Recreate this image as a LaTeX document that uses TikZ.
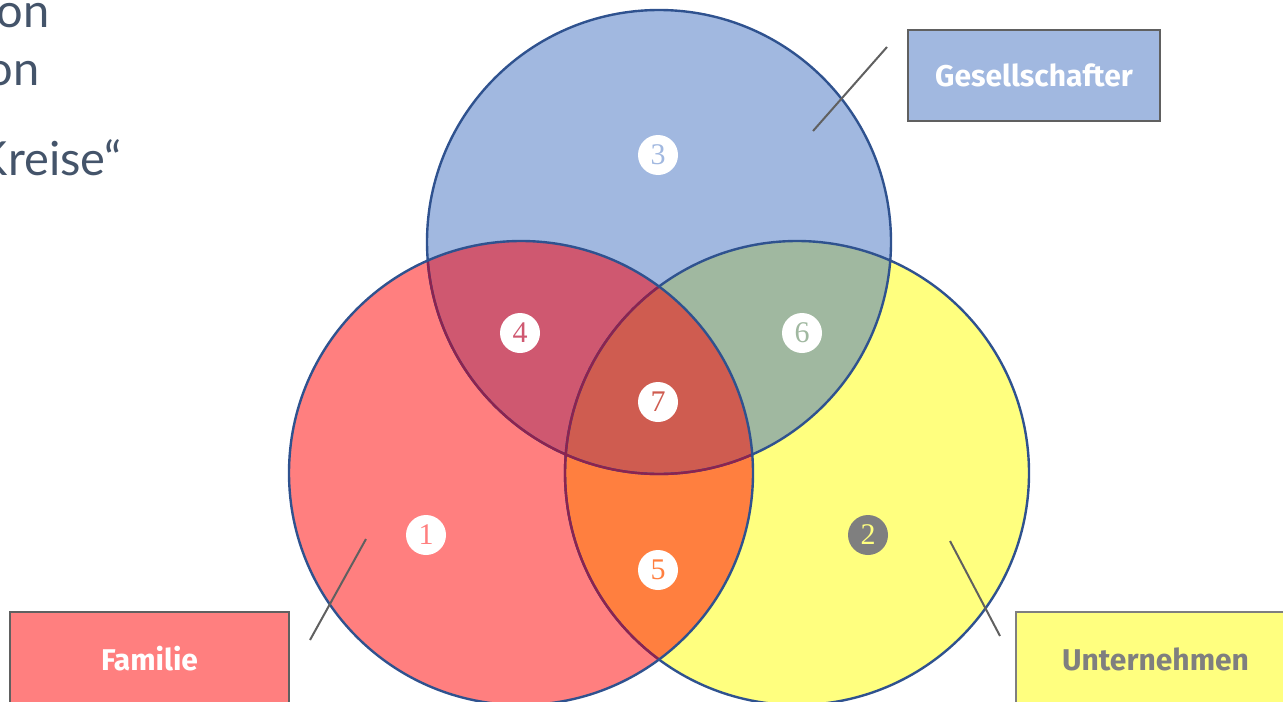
\documentclass[tikz,border=0pt]{standalone}
\usepackage{fontspec}
\newfontfamily\lightfont{Lato}
\newfontfamily\labelfont{Fira Sans}
\newfontfamily\digitfont{Liberation Serif}

\definecolor{gesblue}{RGB}{161,184,224}
\definecolor{famred}{RGB}{255,127,127}
\definecolor{untyellow}{RGB}{255,255,127}
\definecolor{mixfg}{RGB}{207,88,112}
\definecolor{mixfu}{RGB}{255,127,63}
\definecolor{mixgu}{RGB}{160,184,160}
\definecolor{mixall}{RGB}{207,92,80}
\definecolor{ringblue}{RGB}{47,82,143}
\definecolor{ringdark}{RGB}{140,35,80}
\definecolor{tagline}{RGB}{96,96,96}
\definecolor{slidetext}{RGB}{68,84,106}
\definecolor{badgegrey}{RGB}{127,127,127}

\tikzset{
	badge/.style={circle, fill=white, inner sep=0pt, minimum size=20pt, font=\digitfont\fontsize{15}{16}\selectfont},
	tag/.style={draw=tagline, line width=1pt, minimum width=139.5pt, minimum height=47pt, font=\labelfont\bfseries\fontsize{15}{17}\selectfont},
	pointer/.style={draw=tagline, line width=1pt},
	ring/.style={line width=1.2pt},
	slidetxt/.style={anchor=base east, inner sep=0pt, text=slidetext, font=\lightfont\fontsize{23.5}{28}\selectfont},
}

\begin{document}
\begin{tikzpicture}[x=0.5pt,y=-0.5pt]
	\def\rad{116pt}
	\useasboundingbox (0,0) rectangle (1283,701);

	\coordinate (gesC) at (659,242);
	\coordinate (famC) at (521,473);
	\coordinate (untC) at (797,473);

	\fill[gesblue] (gesC) circle (\rad);
	\fill[famred] (famC) circle (\rad);
	\fill[untyellow] (untC) circle (\rad);

	\begin{scope}
		\clip (gesC) circle (\rad);
		\fill[mixgu] (untC) circle (\rad);
	\end{scope}
	\begin{scope}
		\clip (famC) circle (\rad);
		\fill[mixfg] (gesC) circle (\rad);
		\fill[mixfu] (untC) circle (\rad);
		\clip (gesC) circle (\rad);
		\fill[mixall] (untC) circle (\rad);
	\end{scope}

	\draw[ring, ringblue] (gesC) circle (\rad) (untC) circle (\rad);
	\begin{scope}
		\clip (famC) circle (\rad);
		\draw[ring, ringdark] (gesC) circle (\rad) (untC) circle (\rad);
	\end{scope}
	\draw[ring, ringblue] (famC) circle (\rad);

	\node[badge, text=famred] (one) at (426,535) {1};
	\node[badge, fill=badgegrey, text=untyellow] (two) at (868,535) {2};
	\node[badge, text=gesblue] (three) at (658,155) {3};
	\node[badge, text=mixfg] (four) at (520,333) {4};
	\node[badge, text=mixfu] (five) at (658,570) {5};
	\node[badge, text=mixgu] (six) at (802,333) {6};
	\node[badge, text=mixall] (seven) at (658,402) {7};

	\node[tag, fill=gesblue, text=white, minimum width=126pt, minimum height=45.5pt] (ges) at (1034,75.5) {Gesellschafter};
	\node[tag, fill=famred, text=white] (fam) at (149.5,659) {Familie};
	\node[tag, fill=untyellow, text=badgegrey, draw=badgegrey] (unt) at (1155.5,659) {Unternehmen};

	\coordinate (gesEnd) at (887,47);
	\coordinate (gesTip) at (813,131);
	\coordinate (famEnd) at (310,640);
	\coordinate (famTip) at (366,539);
	\coordinate (untEnd) at (1000,636);
	\coordinate (untTip) at (950,541);
	\draw[pointer] (gesEnd) -- (gesTip);
	\draw[pointer] (famEnd) -- (famTip);
	\draw[pointer] (untEnd) -- (untTip);

	\node[slidetxt] (lineA) at (50,28) {on};
	\node[slidetxt] (lineB) at (40,85) {on};
	\node[slidetxt] (lineC) at (122,175) {Kreise“};
\end{tikzpicture}
\end{document}
